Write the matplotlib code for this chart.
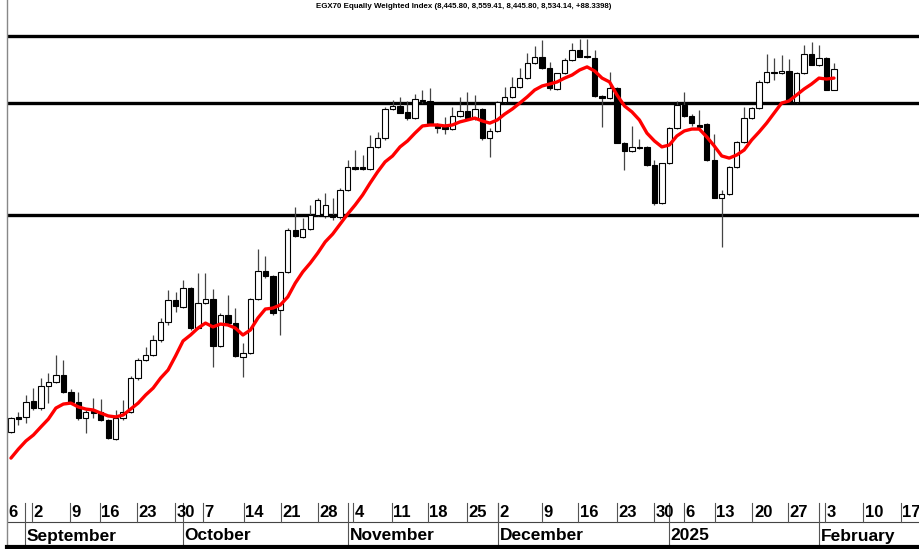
import matplotlib
matplotlib.use("Agg")
import matplotlib.pyplot as plt
from matplotlib.lines import Line2D

plt.rcParams['font.family'] = ['Liberation Sans', 'DejaVu Sans']

title = "EGX70 Equally Weighted Index (8,445.80, 8,559.41, 8,445.80, 8,534.14, +88.3398)"

opens = [7010, 7073, 7073, 7140, 7110, 7203, 7220, 7249, 7178, 7136,
         7068, 7098, 7094, 7060, 6980, 7068, 7094, 7236, 7312, 7333,
         7396, 7472, 7564, 7535, 7614, 7446, 7551, 7568, 7371, 7501,
         7467, 7325, 7341, 7568, 7686, 7665, 7522, 7682, 7858, 7829,
         7862, 7921, 7917, 7921, 7913, 8026, 8123, 8123, 8114, 8207,
         8244, 8366, 8379, 8354, 8328, 8404, 8400, 8295, 8291, 8282,
         8337, 8358, 8328, 8366, 8244, 8274, 8396, 8417, 8459, 8496,
         8559, 8585, 8538, 8450, 8517, 8572, 8614, 8589, 8580, 8421,
         8412, 8454, 8223, 8190, 8207, 8207, 8131, 7971, 8139, 8286,
         8383, 8337, 8299, 8303, 8152, 7992, 8009, 8123, 8228, 8328,
         8370, 8480, 8522, 8517, 8526, 8396, 8517, 8597, 8551, 8580,
         8445.80]
highs = [7073, 7094, 7165, 7194, 7236, 7257, 7333, 7312, 7190, 7178,
         7102, 7152, 7148, 7064, 7102, 7144, 7245, 7320, 7367, 7417,
         7488, 7606, 7598, 7648, 7619, 7677, 7677, 7610, 7509, 7585,
         7530, 7383, 7572, 7778, 7749, 7669, 7682, 7866, 7955, 7908,
         7963, 7992, 8013, 7992, 8034, 8152, 8194, 8173, 8257, 8270,
         8375, 8404, 8417, 8400, 8429, 8446, 8454, 8307, 8333, 8375,
         8417, 8438, 8425, 8370, 8286, 8400, 8459, 8501, 8538, 8601,
         8631, 8656, 8564, 8517, 8580, 8643, 8660, 8660, 8614, 8425,
         8522, 8459, 8228, 8295, 8240, 8211, 8152, 8139, 8291, 8400,
         8438, 8345, 8362, 8307, 8261, 8026, 8127, 8232, 8375, 8375,
         8488, 8597, 8580, 8593, 8576, 8522, 8635, 8648, 8635, 8585,
         8559.41]
lows = [7005, 7039, 7047, 7102, 7102, 7131, 7215, 7173, 7127, 7060,
        7005, 7068, 7056, 6980, 6976, 7060, 7089, 7228, 7308, 7329,
        7388, 7459, 7514, 7530, 7438, 7442, 7547, 7283, 7367, 7463,
        7325, 7241, 7337, 7564, 7656, 7501, 7417, 7677, 7829, 7824,
        7858, 7917, 7908, 7900, 7904, 8022, 8110, 8110, 8110, 8202,
        8236, 8362, 8349, 8320, 8324, 8391, 8303, 8265, 8261, 8278,
        8333, 8324, 8320, 8236, 8165, 8270, 8391, 8412, 8454, 8492,
        8555, 8534, 8446, 8446, 8513, 8568, 8585, 8580, 8417, 8291,
        8408, 8223, 8110, 8186, 8198, 8127, 7963, 7967, 8135, 8282,
        8333, 8295, 8278, 8148, 7992, 7787, 8005, 8118, 8223, 8324,
        8366, 8475, 8488, 8513, 8396, 8391, 8513, 8551, 8547, 8446,
        8445.80]
closes = [7068, 7064, 7136, 7110, 7203, 7220, 7249, 7178, 7136, 7068,
          7094, 7089, 7060, 6984, 7068, 7094, 7236, 7312, 7333, 7396,
          7472, 7564, 7539, 7614, 7446, 7551, 7568, 7371, 7501, 7467,
          7329, 7341, 7568, 7686, 7665, 7509, 7682, 7858, 7833, 7862,
          7921, 7984, 7963, 7913, 8026, 8123, 8114, 8114, 8207, 8244,
          8366, 8379, 8349, 8328, 8408, 8400, 8307, 8286, 8282, 8337,
          8358, 8328, 8366, 8244, 8274, 8396, 8417, 8459, 8496, 8559,
          8585, 8538, 8454, 8517, 8572, 8614, 8585, 8583, 8421, 8412,
          8454, 8223, 8190, 8207, 8202, 8131, 7971, 8139, 8286, 8383,
          8337, 8307, 8291, 8152, 7992, 8009, 8123, 8228, 8328, 8370,
          8480, 8522, 8517, 8526, 8396, 8517, 8597, 8551, 8580, 8445.80,
          8534.14]
ma_values = [6900, 6938, 6972, 6997, 7031, 7064, 7110, 7127, 7131, 7115,
             7106, 7102, 7089, 7077, 7073, 7081, 7106, 7131, 7165, 7194,
             7236, 7270, 7329, 7392, 7417, 7446, 7467, 7451, 7463, 7459,
             7446, 7417, 7438, 7488, 7526, 7530, 7543, 7577, 7635, 7682,
             7719, 7761, 7808, 7841, 7883, 7925, 7963, 8005, 8055, 8102,
             8144, 8169, 8207, 8232, 8265, 8295, 8299, 8299, 8295, 8299,
             8312, 8320, 8328, 8316, 8307, 8320, 8345, 8366, 8391, 8417,
             8446, 8463, 8471, 8480, 8496, 8509, 8530, 8543, 8526, 8496,
             8480, 8425, 8379, 8354, 8320, 8265, 8232, 8207, 8215, 8253,
             8274, 8282, 8282, 8249, 8211, 8169, 8160, 8173, 8194, 8236,
             8270, 8307, 8349, 8391, 8400, 8425, 8450, 8471, 8496, 8492,
             8496]
levels = [8673, 8390, 7923]

date_ticks = [-0.53, 2.8, 7.9, 11.9, 16.8, 21.9, 25.7, 31.1, 36.1, 41.0,
              45.7, 50.9, 55.7, 61.0, 65.1, 71.0, 75.8, 81.0, 86.0, 90.0,
              94.1, 99.1, 103.9, 108.8, 113.9, 118.9]
date_labels = ["6", "2", "9", "16", "23", "30", "7", "14", "21", "28",
               "4", "11", "18", "25", "2", "9", "16", "23", "30", "6",
               "13", "20", "27", "3", "10", "17"]
month_ticks = [1.9, 23.0, 45.1, 65.1, 88.0, 108.0]
month_labels = ["September", "October", "November", "December", "2025", "February"]

W, H = 920, 549
fig = plt.figure(figsize=(W / 100, H / 100), dpi=100)
fig.patch.set_facecolor('white')

left_px, right_px = 7, 920
top_px, bot_px = 20, 500
ax = fig.add_axes([left_px / W, 1 - bot_px / H, (right_px - left_px) / W, (bot_px - top_px) / H])
xmin, xmax = -0.53, 121.5
ax.set_xlim(xmin, xmax)
ax.set_ylim(6724, 8740)
for s in ax.spines.values():
    s.set_visible(False)
ax.set_xticks([])
ax.set_yticks([])

# support / resistance levels
for lv in levels:
    ax.axhline(lv, color='black', lw=2.4, zorder=1)

n = len(closes)
xs = list(range(n))
ax.vlines(xs, lows, highs, color='#444444', lw=0.9, zorder=2)
bottoms = [min(o, c) for o, c in zip(opens, closes)]
heights = [max(abs(c - o), 3) for o, c in zip(opens, closes)]
colors = ['white' if c > o else 'black' for o, c in zip(opens, closes)]
ax.bar(xs, heights, bottom=bottoms, width=0.72, color=colors,
       edgecolor='black', linewidth=0.8, zorder=3)

ax.plot(xs, ma_values, color='#ff0000', lw=2.4, zorder=4, solid_capstyle='round')

fig.text(464 / W, 1 - 7 / H, title, ha='center', va='center', fontsize=5.7,
         fontweight='bold', color='black')

# date axis
ax2 = fig.add_axes([left_px / W, 1 - 547 / H, (right_px - left_px) / W, 47 / H])
ax2.set_xlim(xmin, xmax)
ax2.set_ylim(547, 500)
ax2.axis('off')
ax2.axhline(522, color='#444444', lw=0.8)
for t, lab in zip(date_ticks, date_labels):
    ax2.plot([t, t], [503, 522], color='#555555', lw=0.8)
    ax2.text(t + 0.2, 512.5, lab, ha='left', va='center', fontsize=12,
             fontweight='bold', color='black')
for t, lab in zip(month_ticks, month_labels):
    ax2.plot([t, t], [503, 545], color='#555555', lw=0.8)
    ax2.text(t + 0.2, 536, lab, ha='left', va='center', fontsize=12.5,
             fontweight='bold', color='black')

# frame lines
fig.add_artist(Line2D([7 / W, 7 / W], [1 - 545 / H, 1.0], color='#888888', lw=1.0))
fig.add_artist(Line2D([7 / W, 1.0], [1 - 547 / H, 1 - 547 / H], color='black', lw=3.0))

fig.savefig('out.png', dpi=100, facecolor='white')
